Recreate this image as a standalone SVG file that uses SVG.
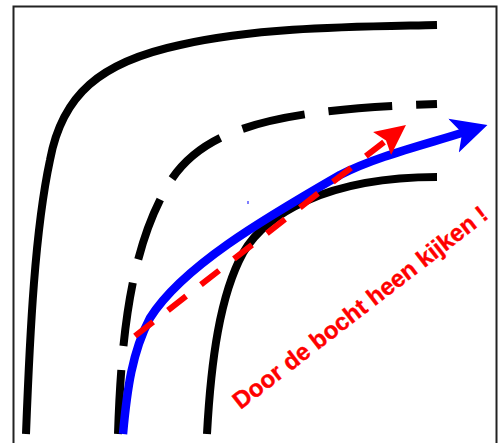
<svg xmlns="http://www.w3.org/2000/svg" width="501" height="443" viewBox="0 0 501 443">
<style>
.road{fill:none;stroke:#000;stroke-width:8}
.dash{stroke-dasharray:64 24}
.path{fill:none;stroke:#00f;stroke-width:8.5}
.sight{fill:none;stroke:#f00;stroke-width:6;stroke-dasharray:23 18.8}
.label{font-family:"Liberation Sans",Arial,sans-serif;font-weight:bold;font-size:24px;fill:#f00;stroke:#f00;stroke-width:0.4}
</style>
<defs>
<marker id="blueHead" markerUnits="userSpaceOnUse" markerWidth="40" markerHeight="40" viewBox="0 -20 40 40" refX="12" refY="0" orient="auto">
<path d="M0,-17.7 L35.5,0 L0,17.7 L9,0 Z" fill="#00f"/>
</marker>
<marker id="redHead" markerUnits="userSpaceOnUse" markerWidth="34" markerHeight="34" viewBox="0 -17 34 34" refX="7" refY="0" orient="auto">
<path d="M0,-14.6 L30.3,0 L0,14.6 L5,0 Z" fill="#f00"/>
</marker>
</defs>
<rect id="frame" x="13.5" y="6.5" width="483" height="450" fill="#fff" stroke="#222" stroke-width="2"/>
<g id="outer-edge"><path class="road" d="M26,434 C30,330 35,230 50,160 C62,95 100,62 180,45 C260,27 350,27 437,25"/></g>
<g id="center-line"><path class="road dash" d="M118,434 C121,340 130,260 160,200 C190,135 250,110 437,104"/></g>
<g id="inner-edge"><path class="road" d="M207,434 C211,360 220,295 243,253 C265,215 325,177 437,177"/></g>
<g id="connectors">
<path id="driving-line" class="path" d="M123,434 C127,390 132,352 150,318 C182,267 262,220 340,175 C375,157 420,146 465,132" marker-end="url(#blueHead)"/>
<path id="sight-line" class="sight" d="M135,336 L387.6,139.3" marker-end="url(#redHead)"/>
</g>
<rect x="247.5" y="201" width="1" height="3" fill="#00f"/>
<g id="caption"><text class="label" x="240.6" y="410.1" transform="rotate(-37.7 240.6 410.1)">Door de bocht heen kijken !</text></g>
</svg>
